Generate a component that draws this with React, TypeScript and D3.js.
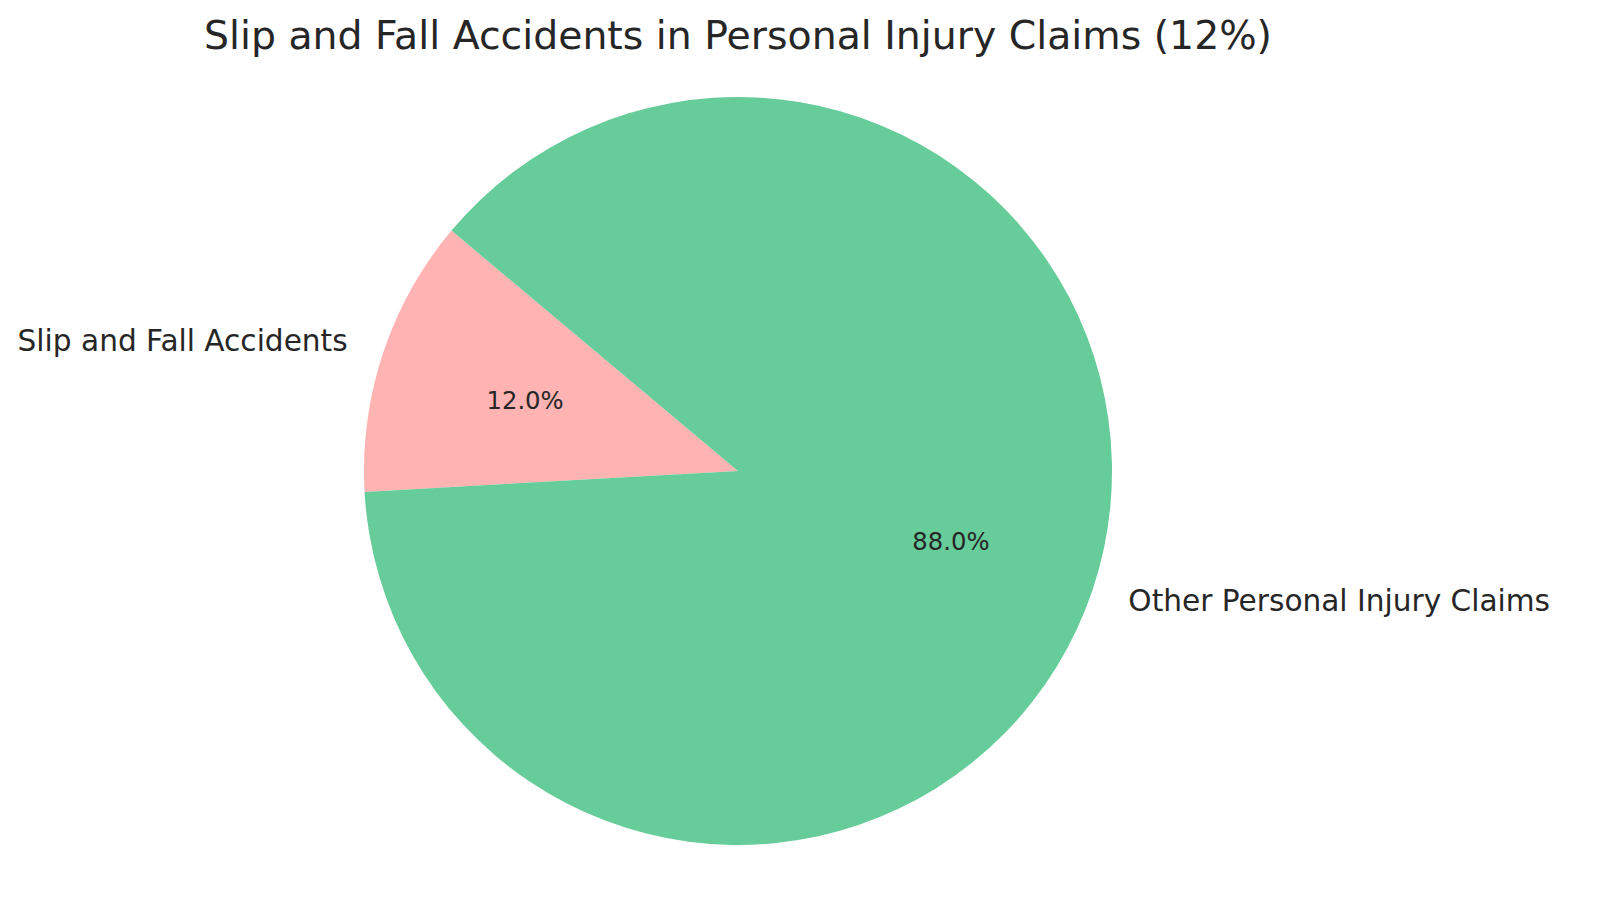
import { useEffect } from 'react'
import * as d3 from 'd3'

const categories = ['Slip and Fall Accidents', 'Other Personal Injury Claims']
const shares = [12, 88]
const colors = ['#ffb3b3', '#66cc99']
const title = 'Slip and Fall Accidents in Personal Injury Claims (12%)'

interface Slice {
  name: string
  value: number
  color: string
}

const W = 1600
const H = 917
const cx = 738
const cy = 471
const radius = 374
const startDeg = 140 // matplotlib-style start angle, counter-clockwise

export default function App() {
  useEffect(() => {
    document.body.style.margin = '0'
  }, [])

  const data: Slice[] = categories.map((name, i) => ({ name, value: shares[i], color: colors[i] }))

  // d3 measures clockwise from 12 o'clock; go counter-clockwise from 140deg
  const start = ((90 - startDeg) * Math.PI) / 180
  const pie = d3
    .pie<Slice>()
    .value((d) => d.value)
    .sort(null)
    .startAngle(start)
    .endAngle(start - 2 * Math.PI)

  const arc = d3.arc<d3.PieArcDatum<Slice>>().innerRadius(0).outerRadius(radius)
  const arcs = pie(data)

  const polar = (a: number, r: number) => [Math.sin(a) * r, -Math.cos(a) * r]

  return (
    <svg width={W} height={H} style={{ display: 'block', fontFamily: 'DejaVu Sans, sans-serif' }}>
      <rect width={W} height={H} fill="#ffffff" />
      <text x={cx} y={35} textAnchor="middle" dominantBaseline="central" fontSize={39.4} fill="#262626">
        {title}
      </text>
      <g transform={`translate(${cx},${cy})`}>
        {arcs.map((d) => (
          <path key={d.data.name} d={arc(d) || ''} fill={d.data.color} />
        ))}
        {arcs.map((d) => {
          const mid = (d.startAngle + d.endAngle) / 2
          const [lx, ly] = polar(mid, radius * 1.1)
          const [px, py] = polar(mid, radius * 0.6)
          return (
            <g key={`lbl-${d.data.name}`}>
              <text
                x={lx}
                y={ly}
                textAnchor={lx < 0 ? 'end' : 'start'}
                dominantBaseline="central"
                fontSize={29.6}
                fill="#262626"
              >
                {d.data.name}
              </text>
              <text x={px} y={py} textAnchor="middle" dominantBaseline="central" fontSize={24.3} fill="#262626">
                {`${d.data.value.toFixed(1)}%`}
              </text>
            </g>
          )
        })}
      </g>
    </svg>
  )
}
